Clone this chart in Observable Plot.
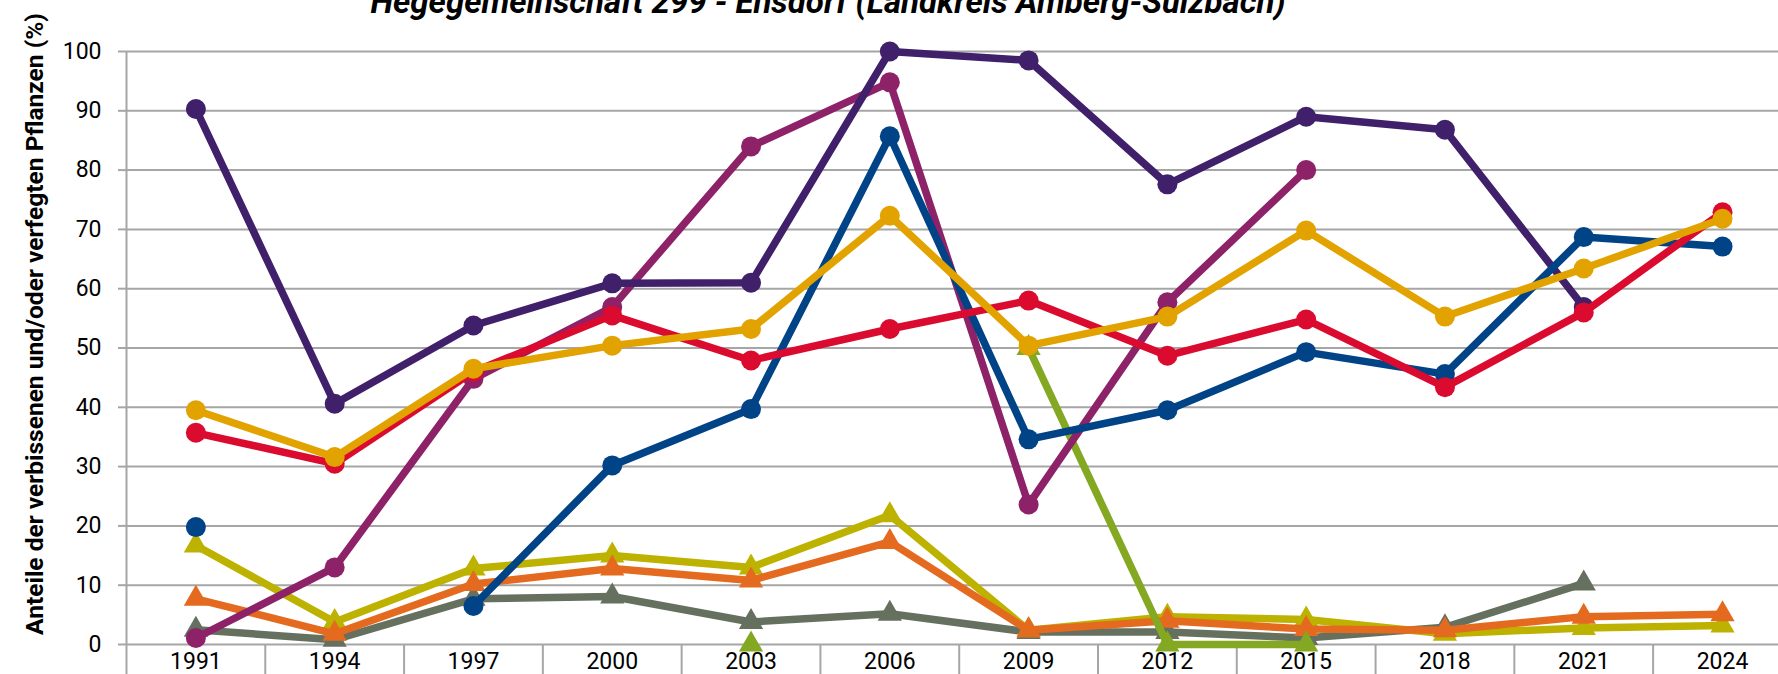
<!DOCTYPE html>
<html><head><meta charset="utf-8">
<script src="https://cdn.jsdelivr.net/npm/d3@7"></script>
<script src="https://cdn.jsdelivr.net/npm/@observablehq/plot@0.6"></script>
<style>
html,body{margin:0;padding:0;background:#fff;overflow:hidden;}
#wrap{position:relative;width:1778px;height:674px;overflow:hidden;}
#title{position:absolute;left:0;width:1656px;top:-15px;text-align:center;font-family:Roboto,sans-serif;font-style:italic;font-weight:bold;font-size:33px;line-height:33px;white-space:nowrap;color:#000;z-index:2;}
#chart{position:absolute;left:0;top:0;}
</style></head><body>
<div id="wrap"><div id="title">Hegegemeinschaft 299 - Ensdorf (Landkreis Amberg-Sulzbach)</div><div id="chart"></div></div>
<script>
const years = [1991,1994,1997,2000,2003,2006,2009,2012,2015,2018,2021,2024];
const yTicks = [0,10,20,30,40,50,60,70,80,90,100];
const yLabel = "Anteile der verbissenen und/oder verfegten Pflanzen (%)";

const sPurple  = [90.3,40.6,53.8,60.9,61.0,100,98.5,77.6,89.0,86.8,56.9,null];
const sMagenta = [1.1,13.0,44.8,56.9,84.0,94.8,23.6,57.7,80.0,null,null,null];
const sNavy    = [19.8,null,6.5,30.2,39.7,85.7,34.6,39.5,49.3,45.6,68.7,67.1];
const sRed     = [35.7,30.5,46.0,55.5,47.9,53.2,58.0,48.7,54.8,43.4,56.0,72.9];
const sGold    = [39.5,31.6,46.5,50.4,53.2,72.3,50.4,55.3,69.8,55.3,63.4,71.8];
const sOlive   = [16.7,3.8,12.8,15.0,13.0,21.8,2.4,4.7,4.2,1.8,2.8,3.2];
const sOrange  = [7.7,1.8,10.2,12.8,10.8,17.3,2.4,4.0,2.6,2.4,4.7,5.1];
const sGrey    = [2.5,0.8,7.7,8.1,3.8,5.2,2.1,2.1,1.1,2.9,10.3,null];
const sGreen   = [null,null,null,null,0,null,50,0,0,null,null,null];

const series = [
  {values: sGrey,    color: "#66705f", symbol: "triangle"},
  {values: sOlive,   color: "#bdb200", symbol: "triangle"},
  {values: sOrange,  color: "#e46a1f", symbol: "triangle"},
  {values: sGreen,   color: "#84a822", symbol: "triangle"},
  {values: sMagenta, color: "#8e2268", symbol: "circle"},
  {values: sPurple,  color: "#40206a", symbol: "circle"},
  {values: sNavy,    color: "#004386", symbol: "circle"},
  {values: sRed,     color: "#db0a2f", symbol: "circle"},
  {values: sGold,    color: "#e2a200", symbol: "circle"}
];

const bounds = years.map(y => y - 1.5).concat([years[years.length-1] + 1.5]);
const grid = "#a6a6a6";

const marks = [
  Plot.gridY(yTicks, {stroke: grid, strokeOpacity: 1, strokeWidth: 2}),
  Plot.ruleX([bounds[0]], {stroke: grid, strokeWidth: 2}),
  Plot.axisY(yTicks, {tickSize: 8, tickPadding: 17, stroke: grid, strokeWidth: 2, fill: "#000", fontSize: 23, label: null}),
  Plot.axisX(bounds, {tickSize: 34, tickFormat: () => "", stroke: grid, strokeWidth: 2, label: null}),
  Plot.axisX(years, {tickSize: 0, tickPadding: 8, tickFormat: d => String(d), fill: "#000", fontSize: 23, label: null}),
  Plot.text([yLabel], {text: d => d, frameAnchor: "left", textAnchor: "middle", rotate: -90, dx: -91, dy: -24, fontWeight: "bold", fontSize: 24.5, fill: "#000"})
];
for (const s of series) {
  const data = years.map((yr, i) => ({year: yr, v: s.values[i]}));
  marks.push(Plot.line(data, {x: "year", y: "v", stroke: s.color, strokeWidth: 7.5, strokeLinejoin: "round", strokeLinecap: "round"}));
  marks.push(Plot.dot(data.filter(d => d.v != null), {x: "year", y: "v", fill: s.color, stroke: "none", symbol: s.symbol, r: s.symbol === "circle" ? 10 : 9}));
}

const chart = Plot.plot({
  width: 1778, height: 674,
  marginTop: 51, marginBottom: 30, marginLeft: 126, marginRight: 0,
  x: {type: "linear", domain: [1989.5, 2025.21]},
  y: {domain: [0, 100]},
  style: {fontFamily: "Roboto, sans-serif", color: "#000", background: "#fff", overflow: "visible"},
  marks
});
document.getElementById("chart").appendChild(chart);
</script>
</body></html>
